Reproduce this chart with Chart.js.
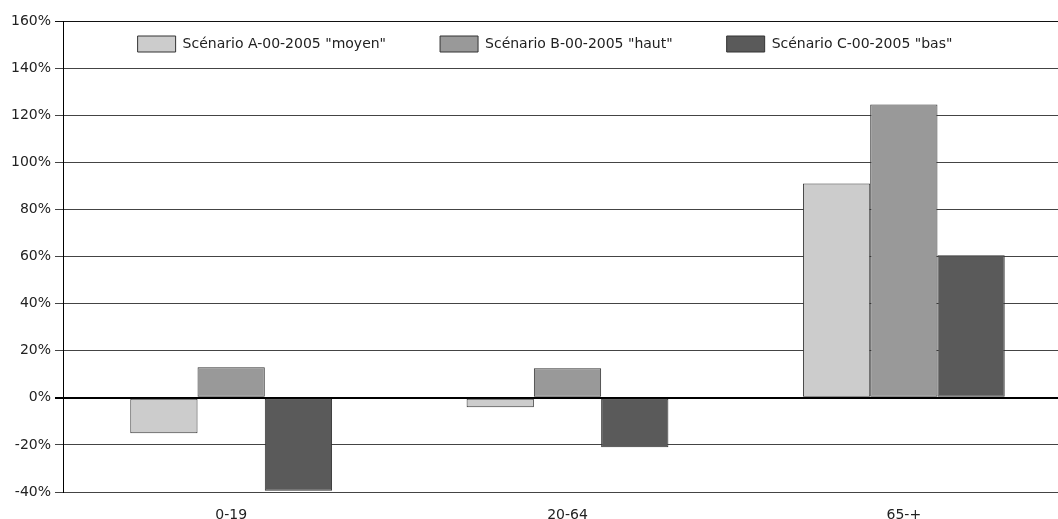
<!DOCTYPE html>
<html>
<head>
<meta charset="utf-8">
<script src="https://cdn.jsdelivr.net/npm/chart.js@4/dist/chart.umd.min.js"></script>
<style>
  html, body { margin: 0; padding: 0; background: #fff; overflow: hidden; }
  #wrap { position: relative; width: 1072px; height: 519px; }
</style>
</head>
<body>
<div id="wrap"><canvas id="c"></canvas></div>
<script>
const categories = ["0-19", "20-64", "65-+"];
const seriesNames = ['Scénario A-00-2005 "moyen"', 'Scénario B-00-2005 "haut"', 'Scénario C-00-2005 "bas"'];
const scenarioA = [-15, -4, 91];
const scenarioB = [13, 12.5, 124.5];
const scenarioC = [-39.5, -21, 60.5];
const seriesColors = ["#cccccc", "#999999", "#5a5a5a"];
const yMin = -40, yMax = 160, yStep = 20;

const FONT = { family: "'DejaVu Sans', sans-serif", size: 14 };
const LEGEND_PAD = 54;
const BOX_H = 16;
const LEGEND_H = BOX_H + LEGEND_PAD + 10;

const legendShift = {
  id: 'legendShift',
  afterLayout(chart) {
    const lg = chart.legend;
    if (!lg) return;
    const h = lg.bottom - lg.top;
    lg.top = 36 - LEGEND_PAD;
    lg.bottom = lg.top + h;
    lg.left += 9;
    lg.right += 9;
  }
};

new Chart(document.getElementById('c'), {
  type: 'bar',
  data: {
    labels: categories,
    datasets: [scenarioA, scenarioB, scenarioC].map((d, i) => ({
      label: seriesNames[i],
      data: d,
      backgroundColor: seriesColors[i],
      borderColor: '#333333',
      borderWidth: 1,
      borderSkipped: false,
      categoryPercentage: 0.6,
      barPercentage: 1.0
    }))
  },
  options: {
    responsive: true,
    maintainAspectRatio: false,
    animation: false,
    devicePixelRatio: 1,
    layout: { padding: { top: 21 - LEGEND_H, left: 0, right: 0, bottom: 0 } },
    plugins: {
      tooltip: { enabled: false },
      legend: {
        position: 'top',
        align: 'center',
        labels: {
          boxWidth: 38,
          boxHeight: BOX_H,
          padding: LEGEND_PAD,
          color: '#222',
          font: FONT
        }
      }
    },
    scales: {
      x: {
        grid: { display: false },
        border: { display: false },
        ticks: { color: '#222', font: FONT, padding: 7 },
        afterFit(s) { s.height = 27; }
      },
      y: {
        min: yMin,
        max: yMax,
        ticks: {
          stepSize: yStep,
          color: '#222',
          font: FONT,
          padding: 4,
          callback: v => v + '%'
        },
        grid: {
          drawTicks: true,
          tickLength: 8,
          color: ctx => (ctx.tick && ctx.tick.value === 0) ? '#000' : (ctx.tick && ctx.tick.value === yMax ? '#111' : '#444'),
          lineWidth: ctx => (ctx.tick && ctx.tick.value === 0) ? 2 : 1
        },
        border: { display: true, color: '#000', width: 1 },
        afterFit(s) { s.width = 63; }
      }
    }
  },
  plugins: [legendShift]
});
</script>
</body>
</html>
